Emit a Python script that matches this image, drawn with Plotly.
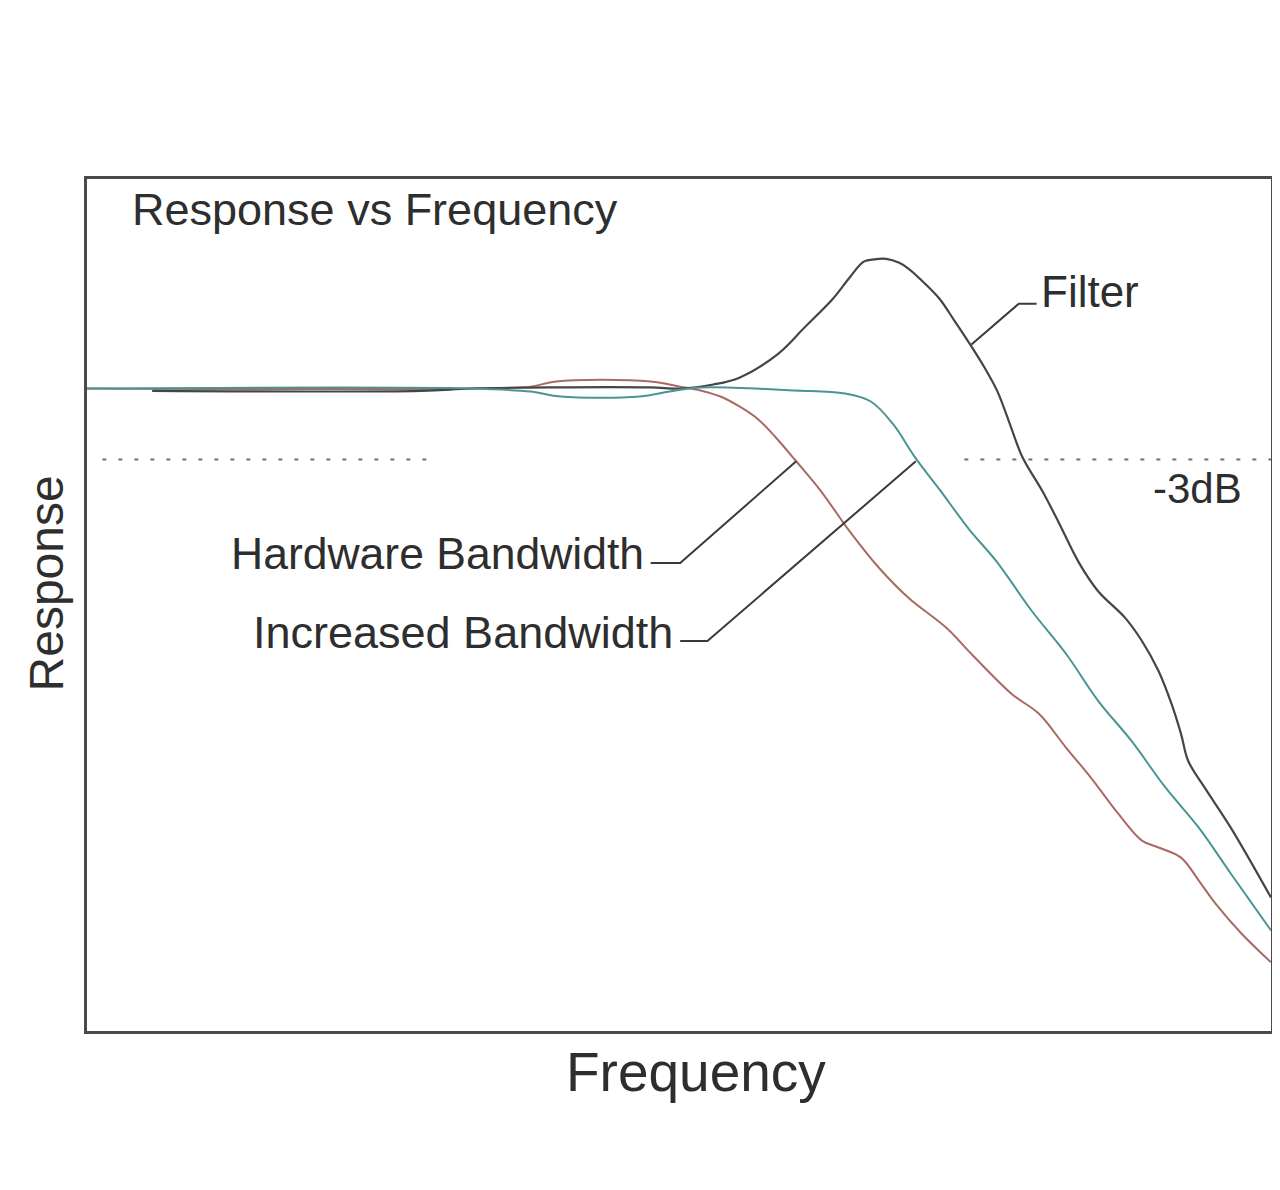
import plotly.graph_objects as go

# ---- data (frequency in arbitrary units 0..100, response in dB) ----
filter_freq = [5.5, 28.2, 32.4, 39.1, 47.6, 50.1, 52.9, 55.1, 58.4, 60.6, 63.0, 64.4, 65.6, 66.5,
               67.5, 68.6, 69.4, 70.7, 72.0, 73.2, 74.6, 75.8, 76.9, 77.9, 79.0, 80.7, 82.1,
               83.8, 85.4, 87.7, 89.1, 90.5, 91.6, 92.4, 93.0, 94.4, 96.6, 100.0]
filter_resp = [-0.1, -0.1, 0.0, 0.05, 0.05, 0.0, 0.17, 0.46, 1.48, 2.58, 3.80, 4.69, 5.37, 5.47,
               5.49, 5.32, 5.07, 4.48, 3.80, 2.92, 1.86, 0.89, -0.13, -1.44, -2.90, -4.35, -5.70,
               -7.39, -8.58, -9.72, -10.69, -11.96, -13.35, -14.62, -15.76, -16.90, -18.59, -21.55]

incr_freq = [0.0, 32.4, 37.5, 40.0, 46.7, 49.2, 51.8, 59.8, 64.0, 66.2, 68.1, 70.0, 72.0,
             74.5, 76.8, 79.8, 82.7, 85.4, 88.2, 91.1, 93.9, 96.6, 100.0]
incr_resp = [0.0, 0.0, -0.13, -0.34, -0.34, -0.13, 0.04, -0.08, -0.21, -0.55, -1.52, -2.96,
             -4.27, -5.96, -7.31, -9.42, -11.24, -13.22, -14.91, -16.90, -18.59, -20.53, -22.94]

hw_freq = [0.0, 32.4, 37.5, 39.6, 47.6, 50.1, 51.8, 53.5, 55.1, 56.6, 58.1, 59.9, 62.0, 64.4,
           66.9, 69.4, 72.6, 74.7, 78.1, 80.4, 82.7, 84.8, 87.1, 89.1, 90.5, 92.4, 93.9, 95.3,
           97.5, 100.0]
hw_resp = [0.0, 0.0, 0.08, 0.30, 0.30, 0.08, -0.08, -0.34, -0.76, -1.27, -2.03, -3.08, -4.35,
           -6.04, -7.60, -8.87, -10.14, -11.24, -12.93, -13.77, -15.21, -16.48, -18.00, -19.14,
           -19.43, -19.86, -20.83, -21.80, -23.07, -24.29]

cutoff_db = -3.0
x_range = [0, 100]
y_range = [-27.2, 8.87]

RED = "#a86a62"
TEAL = "#4a9494"
DARK = "#454545"
TXT = "#2e2e2e"
FONT = "Liberation Sans, Arial, sans-serif"

fig = go.Figure()
fig.add_trace(go.Scatter(x=hw_freq, y=hw_resp, mode="lines", line=dict(color=RED, width=2),
                         name="Hardware Bandwidth", line_shape="spline"))
fig.add_trace(go.Scatter(x=filter_freq, y=filter_resp, mode="lines", line=dict(color=DARK, width=2.2),
                         name="Filter", line_shape="spline"))
fig.add_trace(go.Scatter(x=incr_freq, y=incr_resp, mode="lines", line=dict(color=TEAL, width=2),
                         name="Increased Bandwidth", line_shape="spline"))

# -3dB dotted reference line (two segments, broken by the labels area)
for x0, x1 in [(1.3, 28.9), (74.1, 100)]:
    fig.add_shape(type="line", x0=x0, x1=x1, y0=cutoff_db, y1=cutoff_db, xref="x", yref="y",
                  line=dict(color="#707070", width=2, dash="4px,12px"))

# leader lines for labels
leaders = [
    [(47.6, -7.39), (50.1, -7.39), (59.9, -3.08)],
    [(50.1, -10.69), (52.4, -10.69), (70.0, -3.08)],
    [(74.7, 1.86), (78.7, 3.59), (80.2, 3.59)],
]
for pts in leaders:
    path = "M " + " L ".join(f"{x},{y}" for x, y in pts)
    fig.add_shape(type="path", path=path, xref="x", yref="y",
                  line=dict(color="#3a3a3a", width=2))

def label(text, x, y, anchor, size=44, **kw):
    fig.add_annotation(text=text, x=x, y=y, xref="x", yref="y", xanchor=anchor, yanchor="middle",
                       showarrow=False, font=dict(family=FONT, size=size, color=TXT), **kw)

label("Response vs Frequency", 3.6, 7.56, "left", size=45)
label("Hardware Bandwidth", 47.2, -7.0, "right", size=44.5)
label("Increased Bandwidth", 49.7, -10.35, "right", size=45)
label("Filter", 80.4, 4.1, "left")
label("-3dB", 89.9, -4.22, "left", size=42)

fig.add_annotation(text="Frequency", x=0.514, y=-0.048, xref="paper", yref="paper",
                   xanchor="center", yanchor="middle", showarrow=False,
                   font=dict(family=FONT, size=55, color=TXT))
fig.add_annotation(text="Response", x=-0.034, y=0.525, xref="paper", yref="paper",
                   xanchor="center", yanchor="middle", showarrow=False, textangle=-90,
                   font=dict(family=FONT, size=48, color=TXT))

axis_common = dict(showgrid=False, zeroline=False, showticklabels=False, ticks="",
                   showline=True, linecolor="#4a4a4a", linewidth=3, mirror=True)
fig.update_xaxes(range=x_range, **axis_common)
fig.update_yaxes(range=y_range, **axis_common)

fig.update_layout(width=1272, height=1182, showlegend=False,
                  margin=dict(l=79, r=6, t=171, b=159),
                  paper_bgcolor="white", plot_bgcolor="white")

fig.write_html("out.html")
